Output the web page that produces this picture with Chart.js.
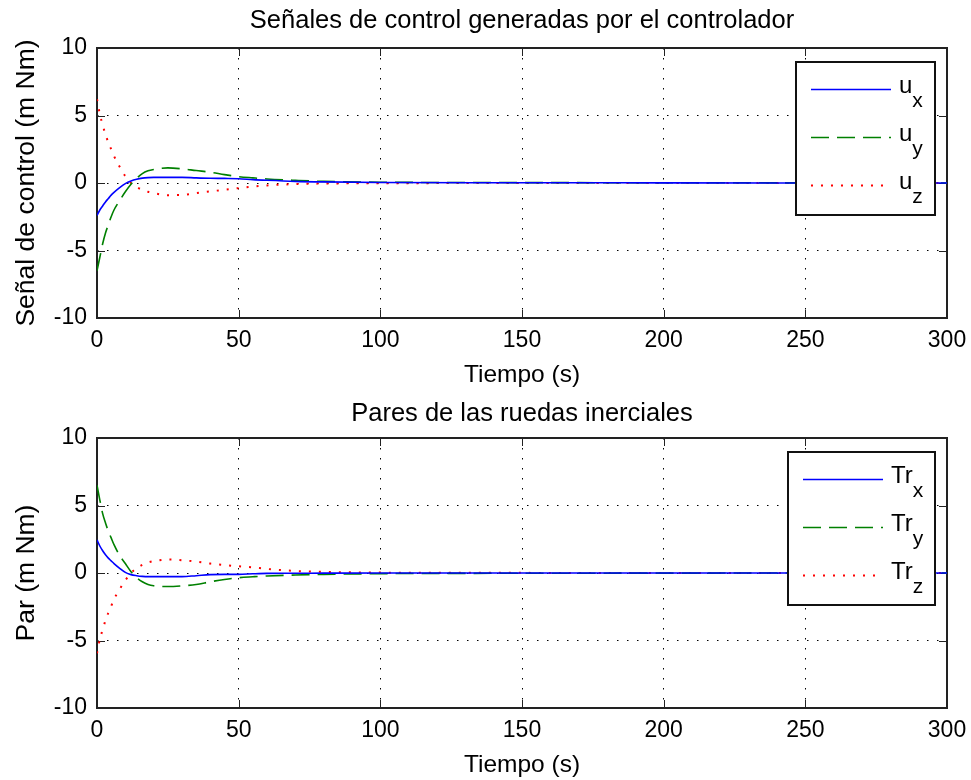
<!DOCTYPE html>
<html>
<head>
<meta charset="utf-8">
<script src="https://cdn.jsdelivr.net/npm/chart.js@4"></script>
<style>
  html, body { margin: 0; padding: 0; background: #fff; }
  .box { position: absolute; left: 0; width: 971px; height: 390px; }
  #wrapTop { top: 0; }
  #wrapBottom { top: 390px; }
</style>
</head>
<body>
<div class="box" id="wrapTop"><canvas id="chartTop" width="971" height="390"></canvas></div>
<div class="box" id="wrapBottom"><canvas id="chartBottom" width="971" height="390"></canvas></div>
<script>
const FONT = "'Liberation Sans', Arial, sans-serif";

// time samples (s)
const time = [0, 1, 2, 3, 4, 5, 6, 8, 10, 12, 14, 16, 18, 20, 25, 30, 35, 40, 45, 50, 55, 60, 70, 80, 100, 150, 200, 250, 300];

// control signals (m Nm)
const uxVals = [-2.4, -2.0, -1.7, -1.4, -1.15, -0.9, -0.7, -0.35, -0.05, 0.15, 0.28, 0.36, 0.4, 0.42, 0.42, 0.42, 0.38, 0.35, 0.34, 0.32, 0.25, 0.2, 0.12, 0.08, 0.04, 0.02, 0.01, 0, 0];
const uyVals = [-6.5, -5.5, -4.5, -3.7, -3.1, -2.5, -2.0, -1.3, -0.65, -0.1, 0.35, 0.7, 0.9, 1.0, 1.12, 1.05, 0.92, 0.8, 0.62, 0.47, 0.38, 0.3, 0.2, 0.12, 0.06, 0.03, 0.02, 0.01, 0];
const uzVals = [6.2, 5.1, 4.3, 3.6, 3.0, 2.5, 2.0, 1.2, 0.5, 0.0, -0.3, -0.5, -0.65, -0.75, -0.9, -0.88, -0.75, -0.62, -0.5, -0.38, -0.27, -0.18, -0.08, -0.04, -0.02, 0, 0, 0, 0];

// reaction wheel torques (m Nm)
const trxVals = [2.45, 2.0, 1.65, 1.35, 1.1, 0.9, 0.7, 0.35, 0.05, -0.12, -0.2, -0.25, -0.27, -0.27, -0.27, -0.27, -0.2, -0.12, -0.1, -0.1, -0.06, -0.03, -0.02, -0.01, 0, 0, 0, 0, 0];
const tryVals = [6.5, 5.4, 4.4, 3.7, 3.1, 2.6, 2.1, 1.3, 0.7, 0.1, -0.35, -0.65, -0.85, -0.95, -1.0, -0.95, -0.85, -0.65, -0.48, -0.35, -0.28, -0.22, -0.15, -0.1, -0.05, -0.02, -0.01, 0, 0];
const trzVals = [-5.95, -4.9, -4.2, -3.5, -2.95, -2.45, -1.95, -1.2, -0.55, 0.0, 0.35, 0.6, 0.78, 0.88, 1.0, 0.95, 0.84, 0.7, 0.58, 0.5, 0.42, 0.3, 0.15, 0.08, 0.03, 0.01, 0, 0, 0];

const xTicks = [0, 50, 100, 150, 200, 250, 300];
const yTicks = [-10, -5, 0, 5, 10];

const COLORS = ["#0000ff", "#008000", "#ff0000"];
const DASHES = [[], [18, 8], [2, 8]];

function toPoints(vals) {
  return vals.map((v, i) => ({ x: time[i], y: v }));
}

function makeDatasets(series, labels) {
  return series.map((vals, i) => ({
    label: labels[i],
    data: toPoints(vals),
    borderColor: COLORS[i],
    borderWidth: i === 2 ? 2 : 1.6,
    borderDash: DASHES[i],
    pointRadius: 0,
    fill: false,
    cubicInterpolationMode: "monotone",
  }));
}

// frame with inward ticks, like a MATLAB box
const framePlugin = {
  id: "frame",
  beforeDatasetsDraw(chart) {
    const { ctx, chartArea: a, scales } = chart;
    ctx.save();
    ctx.strokeStyle = "#222";
    ctx.lineWidth = 1;
    scales.x.ticks.forEach((t) => {
      const px = Math.round(scales.x.getPixelForValue(t.value)) + 0.5;
      ctx.beginPath();
      ctx.moveTo(px, a.bottom); ctx.lineTo(px, a.bottom - 8);
      ctx.moveTo(px, a.top); ctx.lineTo(px, a.top + 8);
      ctx.stroke();
    });
    scales.y.ticks.forEach((t) => {
      const py = Math.round(scales.y.getPixelForValue(t.value)) + 0.5;
      ctx.beginPath();
      ctx.moveTo(a.left, py); ctx.lineTo(a.left + 8, py);
      ctx.moveTo(a.right, py); ctx.lineTo(a.right - 8, py);
      ctx.stroke();
    });
    ctx.lineWidth = 2;
    ctx.strokeRect(a.left, a.top, a.right - a.left, a.bottom - a.top);
    ctx.restore();
  },
};

// title centred over the plot area
const axesTitle = {
  id: "axesTitle",
  afterDraw(chart, args, opts) {
    const { ctx, chartArea: a } = chart;
    ctx.save();
    ctx.fillStyle = "#000";
    ctx.font = "25.5px " + FONT;
    ctx.textAlign = "center";
    ctx.textBaseline = "alphabetic";
    ctx.fillText(opts.text, (a.left + a.right) / 2, a.top - opts.gap);
    ctx.restore();
  },
};

// boxed legend with subscripts in upper right corner
const boxLegend = {
  id: "boxLegend",
  afterDatasetsDraw(chart, args, opts) {
    const { ctx, chartArea: a } = chart;
    const w = opts.width, h = 153;
    const x0 = a.right - 12 - w, y0 = a.top + 14;
    ctx.save();
    ctx.fillStyle = "#fff";
    ctx.fillRect(x0, y0, w, h);
    ctx.strokeStyle = "#111";
    ctx.lineWidth = 2;
    ctx.strokeRect(x0, y0, w, h);
    chart.data.datasets.forEach((ds, i) => {
      const ly = y0 + 27 + i * 48;
      ctx.beginPath();
      ctx.strokeStyle = ds.borderColor;
      ctx.lineWidth = ds.borderWidth;
      ctx.setLineDash(ds.borderDash);
      ctx.moveTo(x0 + 15, ly + 0.5);
      ctx.lineTo(x0 + 95, ly + 0.5);
      ctx.stroke();
      ctx.setLineDash([]);
      const [main, sub] = ds.label.split("_");
      ctx.fillStyle = "#000";
      ctx.textBaseline = "alphabetic";
      ctx.textAlign = "left";
      ctx.font = "24px " + FONT;
      ctx.fillText(main, x0 + 103, ly + 4);
      const mw = ctx.measureText(main).width;
      ctx.font = "21px " + FONT;
      ctx.fillText(sub, x0 + 103 + mw, ly + 18);
    });
    ctx.restore();
  },
};

function buildChart(id, title, titleGap, yTitle, datasets, legendWidth) {
  return new Chart(document.getElementById(id), {
    type: "line",
    data: { datasets },
    plugins: [framePlugin, boxLegend, axesTitle],
    options: {
      responsive: false,
      animation: false,
      layout: { padding: { left: 0, right: 24, top: 48, bottom: 0 } },
      plugins: {
        legend: { display: false },
        tooltip: { enabled: false },
        title: { display: false },
        axesTitle: { text: title, gap: titleGap },
        boxLegend: { width: legendWidth },
      },
      scales: {
        x: {
          type: "linear",
          min: 0,
          max: 300,
          afterBuildTicks: (s) => { s.ticks = xTicks.map((v) => ({ value: v })); },
          afterFit: (s) => { s.height = 72; s.paddingLeft = 0; s.paddingRight = 0; },
          ticks: { color: "#000", font: { family: FONT, size: 23 }, padding: 9, maxRotation: 0 },
          grid: { color: "#000", lineWidth: 1, drawTicks: false },
          border: { display: false, dash: [1.5, 8.5] },
          title: { display: true, text: "Tiempo (s)", color: "#000", font: { family: FONT, size: 24.5 }, padding: { top: 0, bottom: 0 } },
        },
        y: {
          min: -10,
          max: 10,
          afterBuildTicks: (s) => { s.ticks = yTicks.map((v) => ({ value: v })); },
          afterFit: (s) => { s.width = 97; },
          ticks: { color: "#000", font: { family: FONT, size: 23 }, padding: 10 },
          grid: { color: "#000", lineWidth: 1, drawTicks: false },
          border: { display: false, dash: [1.5, 8.5] },
          title: { display: true, text: yTitle, color: "#000", font: { family: FONT, size: 26.5 }, padding: { top: 11, bottom: 0 } },
        },
      },
    },
  });
}

buildChart("chartTop", "Señales de control generadas por el controlador", 20, "Señal de control (m Nm)",
  makeDatasets([uxVals, uyVals, uzVals], ["u_x", "u_y", "u_z"]), 139);
buildChart("chartBottom", "Pares de las ruedas inerciales", 17, "Par (m Nm)",
  makeDatasets([trxVals, tryVals, trzVals], ["Tr_x", "Tr_y", "Tr_z"]), 147);
</script>
</body>
</html>
